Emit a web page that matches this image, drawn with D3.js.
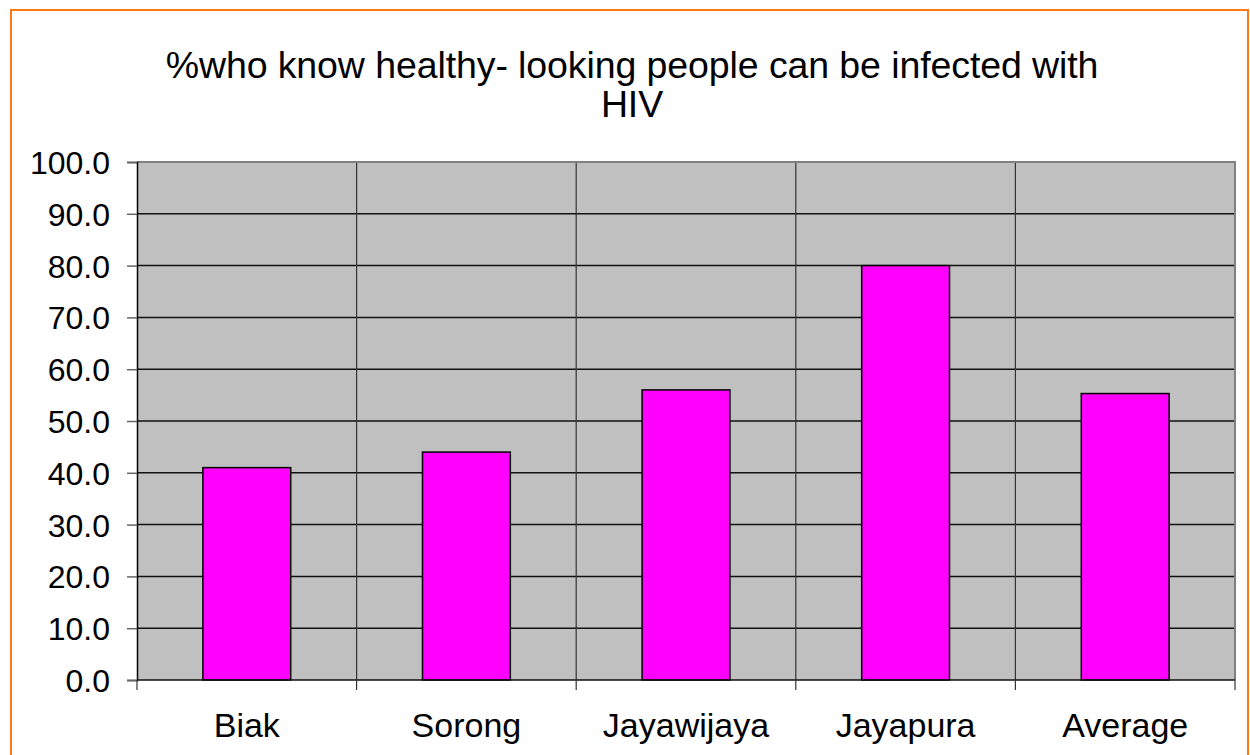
<!DOCTYPE html>
<html>
<head>
<meta charset="utf-8">
<script src="https://cdn.jsdelivr.net/npm/d3@7"></script>
<style>
  body { margin: 0; background: #fff; }
  svg { display: block; font-family: "Liberation Sans", Arial, sans-serif; }
</style>
</head>
<body>
<svg id="chart" width="1250" height="755"></svg>
<script>
// donnees
var districts = ["Biak", "Sorong", "Jayawijaya", "Jayapura", "Average"];
var pct_know = [41.0, 44.0, 56.0, 80.0, 55.3];
var y_ticks = [0, 10, 20, 30, 40, 50, 60, 70, 80, 90, 100];
var titre = ["%who know healthy- looking people can be infected with", "HIV"];

let svg = d3.select("#chart");

let plot = {left: 137, top: 162, right: 1235, bottom: 680};

// cadre orange
svg.append("rect")
    .attr("x", 11).attr("y", 10)
    .attr("width", 1237).attr("height", 760)
    .attr("fill", "none")
    .attr("stroke", "#FF7A12")
    .attr("stroke-width", 2);

let x = d3.scaleBand()
    .domain(districts)
    .range([plot.left, plot.right])
    .paddingInner(0.6)
    .paddingOuter(0.3);

let y = d3.scaleLinear()
    .domain([0, 100])
    .range([plot.bottom, plot.top]);

// fond gris
svg.append("rect")
    .attr("x", plot.left).attr("y", plot.top)
    .attr("width", plot.right - plot.left)
    .attr("height", plot.bottom - plot.top)
    .attr("fill", "#C0C0C0");

// grille horizontale
svg.append("g").selectAll("line")
    .data(y_ticks.filter(d => d > 0 && d < 100))
    .enter().append("line")
    .attr("x1", plot.left).attr("x2", plot.right)
    .attr("y1", d => y(d)).attr("y2", d => y(d))
    .attr("stroke", "#111")
    .attr("stroke-width", 1.5);

// grille verticale entre les categories
let step = x.step();
let bornes = districts.map((d, i) => plot.left + i * step).concat([plot.right]);
svg.append("g").selectAll("line")
    .data(bornes.slice(1, -1))
    .enter().append("line")
    .attr("x1", d => d).attr("x2", d => d)
    .attr("y1", plot.top).attr("y2", plot.bottom)
    .attr("stroke", "#333")
    .attr("stroke-width", 1.2);

// bordure haut / droite
svg.append("path")
    .attr("d", `M${plot.left},${plot.top}H${plot.right}V${plot.bottom}`)
    .attr("fill", "none")
    .attr("stroke", "#808080")
    .attr("stroke-width", 2);

// barres
svg.append("g").selectAll("rect")
    .data(districts)
    .enter().append("rect")
    .attr("x", d => x(d))
    .attr("width", x.bandwidth())
    .attr("y", (d, i) => y(pct_know[i]))
    .attr("height", (d, i) => y(0) - y(pct_know[i]))
    .attr("fill", "#FF00FF")
    .attr("stroke", "#000")
    .attr("stroke-width", 1.5);

// axe y
let yAxis = d3.axisLeft(y)
    .tickValues(y_ticks)
    .tickSize(10)
    .tickPadding(17)
    .tickFormat(d3.format(".1f"));
let gy = svg.append("g")
    .attr("transform", `translate(${plot.left},0)`)
    .call(yAxis);
gy.select(".domain").attr("stroke", "#000").attr("stroke-width", 1.5);
gy.selectAll(".tick line").attr("stroke", "#666").attr("stroke-width", 1.5);
gy.selectAll(".tick text")
    .attr("font-size", 32)
    .attr("font-family", "Liberation Sans, Arial, sans-serif")
    .attr("fill", "#000")
    .attr("dy", "0.36em");

// axe x
svg.append("line")
    .attr("x1", plot.left).attr("x2", plot.right)
    .attr("y1", plot.bottom).attr("y2", plot.bottom)
    .attr("stroke", "#111").attr("stroke-width", 1.5);
svg.append("g").selectAll("line")
    .data(bornes)
    .enter().append("line")
    .attr("x1", d => d).attr("x2", d => d)
    .attr("y1", plot.bottom).attr("y2", plot.bottom + 10)
    .attr("stroke", "#333").attr("stroke-width", 1.2);
svg.append("g").selectAll("text")
    .data(districts)
    .enter().append("text")
    .attr("x", d => x(d) + x.bandwidth() / 2)
    .attr("y", 737)
    .attr("text-anchor", "middle")
    .attr("font-size", 34)
    .text(d => d);

// titre
svg.append("g").selectAll("text")
    .data(titre)
    .enter().append("text")
    .attr("x", 632)
    .attr("y", (d, i) => 78 + i * 39)
    .attr("text-anchor", "middle")
    .attr("font-size", 37.5)
    .style("letter-spacing", "-0.1px")
    .text(d => d);
</script>
</body>
</html>
